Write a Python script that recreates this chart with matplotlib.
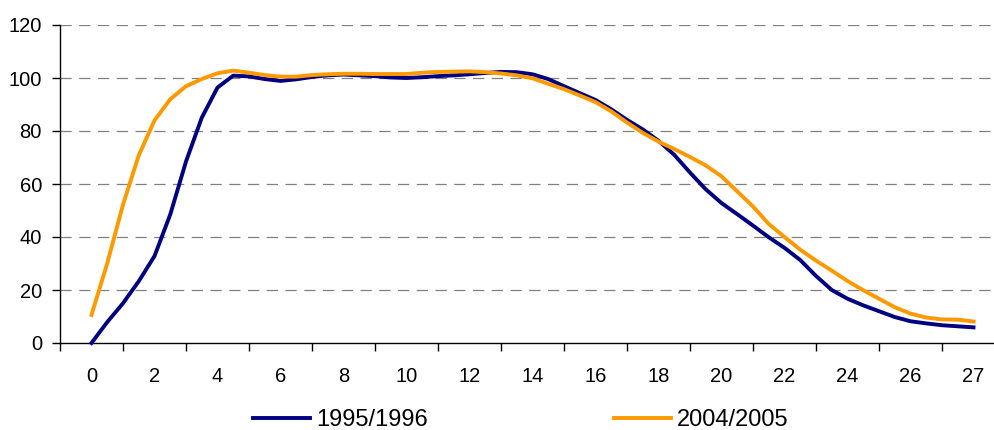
import matplotlib
matplotlib.use("Agg")
import matplotlib.pyplot as plt
import numpy as np

plt.rcParams['font.family'] = ['Liberation Sans', 'DejaVu Sans']

# values, one point per half step
s1995 = [0.0, 7.9, 15.0, 23.3, 32.8, 48.5, 68.5, 85.0, 96.4, 100.9,
         100.6, 99.6, 98.9, 99.5, 100.4, 101.0, 101.3, 101.0, 100.7, 100.2,
         100.0, 100.3, 100.7, 101.0, 101.4, 101.9, 102.3, 102.2, 101.4, 99.6,
         96.9, 94.3, 91.7, 88.2, 84.2, 80.6, 76.3, 71.0, 64.3, 58.0,
         52.8, 48.6, 44.3, 39.9, 35.9, 31.3, 25.3, 20.0, 16.7, 14.2,
         12.0, 9.8, 8.2, 7.4, 6.7, 6.3, 5.9]
s2004 = [10.6, 30.1, 52.2, 70.8, 84.0, 92.0, 96.9, 99.6, 101.8, 102.8,
         102.0, 101.1, 100.5, 100.5, 101.1, 101.4, 101.6, 101.6, 101.5, 101.5,
         101.5, 102.0, 102.3, 102.4, 102.5, 102.2, 101.7, 101.0, 99.9, 97.8,
         95.8, 93.4, 90.9, 87.4, 83.2, 79.3, 76.0, 73.2, 70.2, 67.0,
         62.9, 57.2, 51.5, 44.9, 40.0, 35.2, 31.1, 27.3, 23.4, 19.9,
         16.7, 13.5, 11.1, 9.6, 8.9, 8.8, 8.1]
xlabels = ['0', '2', '4', '6', '8', '10', '12', '14', '16', '18',
           '20', '22', '24', '26', '27']
names = ['1995/1996', '2004/2005']

x = np.arange(len(s1995))

fig = plt.figure(figsize=(9.94, 4.30), dpi=100)
ax = fig.add_axes([60/994, 87/430, 934/994, 318/430])

ax.plot(x, s1995, color='#000080', lw=2.8, label=names[0], clip_on=False, zorder=3)
ax.plot(x, s2004, color='#FF9900', lw=2.8, label=names[1], clip_on=False, zorder=4)

ax.set_xlim(-2, 57.3)
ax.set_ylim(0, 120)

# ticks sit between the labels, like a category axis
ax.set_xticks(np.arange(-2, 57, 4))
ax.set_xticklabels([])
ax.set_xticks(np.arange(0, len(x), 4), minor=True)
ax.set_xticklabels(xlabels, minor=True, fontsize=14.5)
ax.tick_params(axis='x', which='major', direction='out', length=6, width=1)
ax.tick_params(axis='x', which='minor', length=0, pad=17)

ax.set_yticks(range(0, 121, 20))
ax.tick_params(axis='y', direction='out', length=6, width=1, labelsize=14.5, pad=7)

for v in range(20, 121, 20):
    ax.axhline(v, color='#808080', lw=0.9, linestyle=(0, (9, 6)), zorder=1)

for sp in ['top', 'right']:
    ax.spines[sp].set_visible(False)
for sp in ['left', 'bottom']:
    ax.spines[sp].set_linewidth(1)
    ax.spines[sp].set_color('black')

fig.legend(loc='center', bbox_to_anchor=(521/994, 10/430), ncol=2, frameon=False,
           fontsize=17, handlelength=2.4, handletextpad=0.25, columnspacing=7.9)

fig.savefig('out.png', dpi=100)
